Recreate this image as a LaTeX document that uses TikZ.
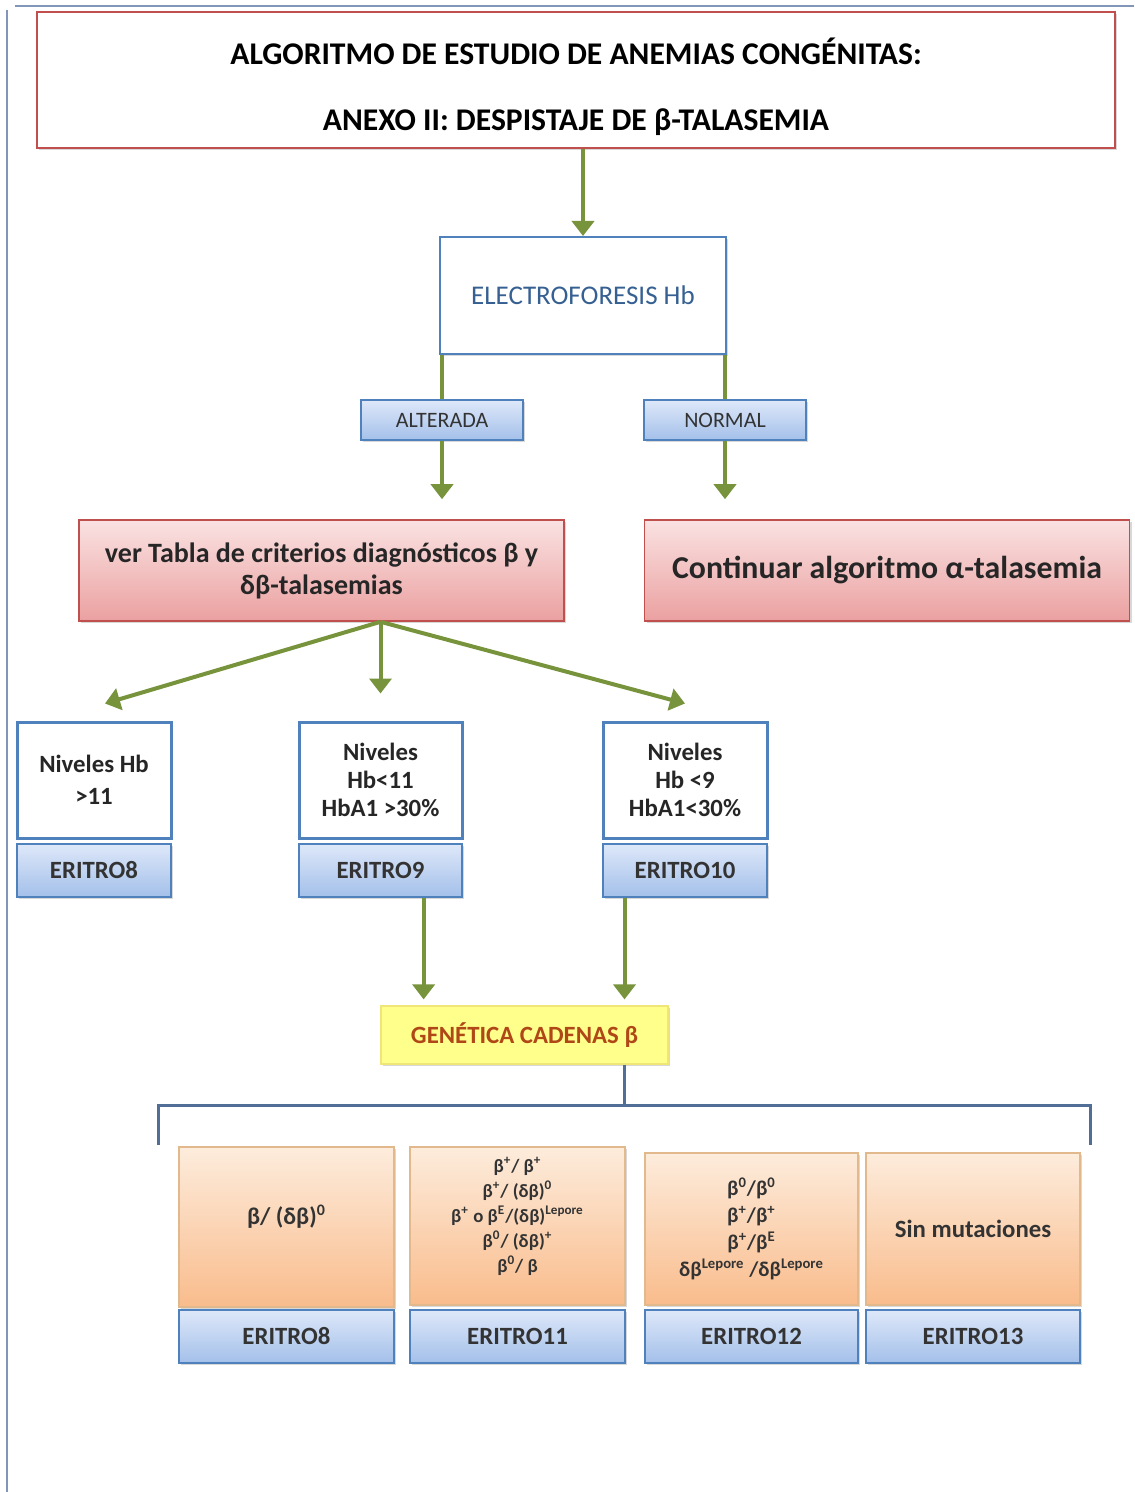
\documentclass[tikz,border=0pt]{standalone}
\usepackage{fontspec}
\setmainfont{Carlito}
\usetikzlibrary{arrows.meta,shadows,calc}
\definecolor{verdeflecha}{RGB}{119,147,60}
\definecolor{rojoborde}{RGB}{192,80,77}
\definecolor{azulborde}{RGB}{79,129,189}
\definecolor{azultexto}{RGB}{54,96,146}
\definecolor{azulclaro}{RGB}{222,232,249}
\definecolor{azulmedio}{RGB}{164,192,234}
\definecolor{rosaclaro}{RGB}{250,226,226}
\definecolor{rosaoscuro}{RGB}{235,160,160}
\definecolor{amarillo}{RGB}{255,255,140}
\definecolor{amarilloborde}{RGB}{240,230,120}
\definecolor{marrongen}{RGB}{175,72,22}
\definecolor{naranjaclaro}{RGB}{253,236,220}
\definecolor{naranjaoscuro}{RGB}{249,188,140}
\definecolor{naranjaborde}{RGB}{225,185,140}
\definecolor{corchete}{RGB}{80,110,150}
\definecolor{marco}{RGB}{130,150,185}
\tikzset{
  font={\fontsize{12.4pt}{14}\selectfont\bfseries},
  sombra/.style={drop shadow={opacity=0.3,shadow xshift=1.2pt,shadow yshift=-1.2pt}},
  titulo/.style={draw=rojoborde,line width=1.2pt,fill=white,sombra,
    minimum width=539pt,minimum height=68pt,align=center,
    font={\fontsize{15.8pt}{18}\selectfont\bfseries}},
  caja/.style={draw=azulborde,line width=1pt,fill=white,sombra,
    minimum width=143pt,minimum height=58.5pt,text=azultexto,
    font={\fontsize{13.5pt}{15}\selectfont}},
  etiqueta/.style={draw=azulborde,line width=0.8pt,top color=azulclaro,
    bottom color=azulmedio,sombra,minimum width=81pt,minimum height=20pt,
    text=black!80,font={\fontsize{11pt}{12}\selectfont}},
  rosa/.style={draw=rojoborde,line width=0.8pt,top color=rosaclaro,
    bottom color=rosaoscuro,sombra,minimum width=242.5pt,minimum height=50.5pt,
    align=center,text=black!85},
  nivel/.style={draw=azulborde,line width=1.5pt,fill=white,sombra,
    minimum width=77pt,minimum height=58pt,align=center,text=black!85},
  eritro/.style={draw=azulborde,line width=1pt,top color=azulclaro,
    bottom color=azulmedio,sombra,minimum height=26.5pt,text=black!80},
  genetica/.style={draw=amarilloborde,line width=0.6pt,fill=amarillo,sombra,
    minimum width=143.5pt,minimum height=29pt,text=marrongen},
  naranja/.style={draw=naranjaborde,line width=0.8pt,top color=naranjaclaro,
    bottom color=naranjaoscuro,sombra,minimum width=107.5pt,align=center,
    text=black!80},
  linea/.style={draw=verdeflecha,line width=2pt},
  flecha/.style={linea,-{Triangle[width=11pt,length=7.5pt]}},
  llave/.style={draw=corchete,line width=1.5pt}}

\begin{document}
\begin{tikzpicture}[x=0.5pt,y=-0.5pt]
\tikzstyle{every node}+=[inner sep=0pt]
\fill [white] (0,0) rectangle (1134,1492);
\useasboundingbox (0,0) rectangle (1134,1492);
\draw [marco,line width=1pt] (15,6) -- (1134,6);
\draw [marco,line width=1pt] (7,10) -- (7,1492);
\node [titulo] (tit) at (576,80) {\rule{0pt}{20pt}ALGORITMO DE ESTUDIO DE ANEMIAS CONGÉNITAS:\\[15pt]ANEXO II: DESPISTAJE DE β-TALASEMIA};
\node [caja] (elec) at (583,295.5) {ELECTROFORESIS Hb};
\node [etiqueta] (alt) at (442,420) {ALTERADA};
\node [etiqueta] (norm) at (725,420) {NORMAL};
\node [rosa,font={\fontsize{14pt}{16}\selectfont\bfseries}] (tabla) at (321.5,570.5) {ver Tabla de criterios diagnósticos β y\\δβ-talasemias};
\node [rosa,font={\fontsize{15.9pt}{18}\selectfont\bfseries}] (cont) at (887,570.5) {Continuar algoritmo α-talasemia};
\node [nivel] (niv8) at (94,780) {Niveles Hb\\[2pt]>11};
\node [nivel,minimum width=81.5pt] (niv9) at (380.5,780) {Niveles\\Hb<11\\HbA1 >30\%};
\node [nivel,minimum width=82pt] (niv10) at (685,780) {Niveles\\Hb <9\\HbA1<30\%};
\node [eritro,minimum width=77pt] (e8) at (94,870) {ERITRO8};
\node [eritro,minimum width=81.5pt] (e9) at (380.5,870) {ERITRO9};
\node [eritro,minimum width=82pt] (e10) at (685,870) {ERITRO10};
\node [genetica] (gen) at (524.5,1035) {GENÉTICA CADENAS β};
\node [naranja,minimum height=80pt,font={\fontsize{12pt}{14}\selectfont\bfseries}] (r1) at (286.5,1227) {β/ (δβ)\textsuperscript{0}\\[-2pt]\mbox{}};
\node [naranja,minimum height=79pt,font={\fontsize{9.4pt}{12.5}\selectfont\bfseries}] (r2) at (517.5,1226) {β\textsuperscript{+}/ β\textsuperscript{+}\\β\textsuperscript{+}/ (δβ)\textsuperscript{0}\\β\textsuperscript{+} o β\textsuperscript{E}/(δβ)\textsuperscript{Lepore}\\β\textsuperscript{0}/ (δβ)\textsuperscript{+}\\β\textsuperscript{0}/ β\\[-1.5pt]\mbox{}};
\node [naranja,minimum width=106.5pt,minimum height=76pt,font={\fontsize{10.5pt}{13.5}\selectfont\bfseries}] (r3) at (751.5,1229) {β\textsuperscript{0}/β\textsuperscript{0}\\β\textsuperscript{+}/β\textsuperscript{+}\\β\textsuperscript{+}/β\textsuperscript{E}\\δβ\textsuperscript{Lepore} /δβ\textsuperscript{Lepore}};
\node [naranja,minimum width=107pt,minimum height=76pt] (r4) at (973,1229) {Sin mutaciones};
\node [eritro,minimum width=107.5pt] (re8) at (286.5,1336) {ERITRO8};
\node [eritro,minimum width=107.5pt] (re11) at (517.5,1336) {ERITRO11};
\node [eritro,minimum width=106.5pt] (re12) at (751.5,1336) {ERITRO12};
\node [eritro,minimum width=107pt] (re13) at (973,1336) {ERITRO13};
\draw [flecha] (tit.south -| elec.north) -- (elec.north);
\draw [linea] (elec.south -| alt.north) -- (alt.north);
\draw [linea] (elec.south -| norm.north) -- (norm.north);
\draw [flecha,shorten >=10pt] (alt.south) -- (alt.south |- tabla.north);
\draw [flecha,shorten >=10pt] (norm.south) -- (norm.south |- cont.north);
\coordinate (sal) at (tabla.south -| niv9.north);
\draw [flecha] (sal) -- ($(niv8.north)+(11,-17)$);
\draw [flecha] (sal) -- ($(niv9.north)+(0,-27)$);
\draw [flecha] (sal) -- ($(niv10.north)+(0,-17)$);
\coordinate (g1) at ($(gen.north west)!0.15!(gen.north east)$);
\coordinate (g2) at ($(gen.north west)!0.847!(gen.north east)$);
\draw [flecha,shorten >=3pt] (e9.south -| g1) -- (g1);
\draw [flecha,shorten >=3pt] (e10.south -| g2) -- (g2);
\coordinate (bm) at (624,1105);
\coordinate (bl) at (158,1145);
\coordinate (br) at (1090,1145);
\draw [llave] (gen.south -| bm) -- (bm);
\draw [llave] (bl) -- (bl |- bm) -- (br |- bm) -- (br);
\end{tikzpicture}
\end{document}
